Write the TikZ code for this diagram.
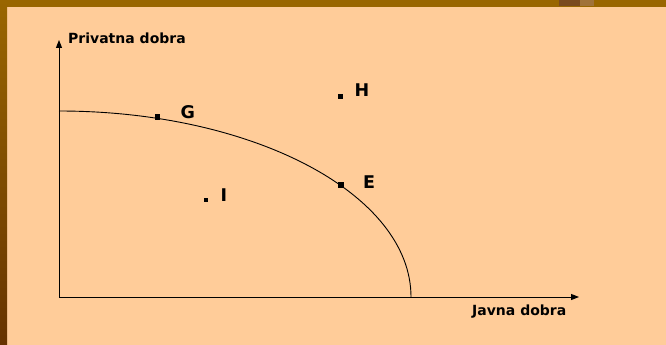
\documentclass[tikz,border=0pt]{standalone}
\usepackage{fontspec}
\setmainfont{DejaVu Sans}
\usetikzlibrary{arrows.meta}
\definecolor{bgpeach}{HTML}{FFCC99}
\definecolor{barbrown}{HTML}{996600}
\definecolor{bardark}{HTML}{663300}
\definecolor{blobdark}{HTML}{7A4A1E}
\definecolor{bloblight}{HTML}{A0723A}
\tikzset{
  axis/.style={line width=1pt, -{Triangle[length=8pt,width=6pt]}},
  curve/.style={line width=0.9pt},
  axislabel/.style={font=\bfseries\fontsize{14}{16}\selectfont, anchor=base west, inner sep=0pt},
  ptlabel/.style={font=\bfseries\fontsize{17.5}{20}\selectfont, anchor=base west, inner sep=0pt},
  marker/.style={fill=black, draw=none, minimum size=5.5pt, inner sep=0pt, outer sep=0pt},
  dotmark/.style={fill=black, draw=none, minimum size=4.5pt, inner sep=0pt, outer sep=0pt}
}
\begin{document}
\begin{tikzpicture}[x=1pt,y=-1pt]
\useasboundingbox (0,0) rectangle (666,345);
% background and template borders
\fill[bgpeach] (0,0) rectangle (666,345);
\fill[barbrown] (0,0) rectangle (666,7);
\shade[top color=barbrown, bottom color=bardark] (0,0) rectangle (7,345);
\fill[blobdark] (559,0) rectangle (580,6);
\fill[bloblight] (580,0) rectangle (594,6.5);
% axes
\coordinate (O) at (59,297);
\coordinate (ytip) at (59,40);
\coordinate (xtip) at (579,297);
\draw[axis] (O) -- (ytip);
\draw[axis] (O) -- (xtip);
% frontier: quarter ellipse
\coordinate (ystart) at (59,111);
\draw[curve] (ystart) arc[start angle=90, end angle=0, x radius=352, y radius=-186];
% axis labels
\node[axislabel] (ylab) at (68,43.3) {Privatna dobra};
\node[axislabel] (xlab) at (472,315) {Javna dobra};
% points
\node[marker] (mG) at (157.5,116.8) {};
\node[marker] (mE) at (341,185) {};
\node[dotmark] (mH) at (340.3,96.3) {};
\node[dotmark] (mI) at (206.2,199.8) {};
\node[ptlabel] (lG) at (180.5,118.7) {G};
\node[ptlabel] (lH) at (354.3,96.7) {H};
\node[ptlabel] (lE) at (362.8,188) {E};
\node[ptlabel] (lI) at (220.5,201.7) {I};
\end{tikzpicture}
\end{document}
